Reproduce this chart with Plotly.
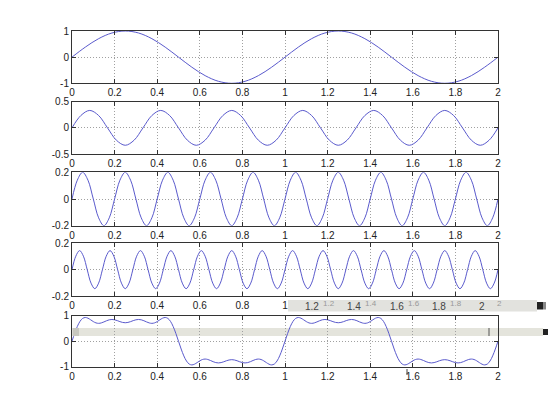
import plotly.graph_objects as go

# ---------------- data ----------------
t1 = [i / 16 for i in range(33)]
y1 = [0, .383, .707, .924, 1, .924, .707, .383, 0, -.383, -.707, -.924, -1, -.924, -.707, -.383,
      0, .383, .707, .924, 1, .924, .707, .383, 0, -.383, -.707, -.924, -1, -.924, -.707, -.383,
      0]

t2 = [i / 24 for i in range(49)]
y2 = [0, .236, .333, .236, 0, -.236, -.333, -.236,
      0, .236, .333, .236, 0, -.236, -.333, -.236,
      0, .236, .333, .236, 0, -.236, -.333, -.236,
      0, .236, .333, .236, 0, -.236, -.333, -.236,
      0, .236, .333, .236, 0, -.236, -.333, -.236,
      0, .236, .333, .236, 0, -.236, -.333, -.236,
      0]

t3 = [i / 40 for i in range(81)]
y3 = [0, .141, .2, .141, 0, -.141, -.2, -.141,
      0, .141, .2, .141, 0, -.141, -.2, -.141,
      0, .141, .2, .141, 0, -.141, -.2, -.141,
      0, .141, .2, .141, 0, -.141, -.2, -.141,
      0, .141, .2, .141, 0, -.141, -.2, -.141,
      0, .141, .2, .141, 0, -.141, -.2, -.141,
      0, .141, .2, .141, 0, -.141, -.2, -.141,
      0, .141, .2, .141, 0, -.141, -.2, -.141,
      0, .141, .2, .141, 0, -.141, -.2, -.141,
      0, .141, .2, .141, 0, -.141, -.2, -.141,
      0]

t4 = [i / 56 for i in range(113)]
y4 = [0, .101, .143, .101, 0, -.101, -.143, -.101,
      0, .101, .143, .101, 0, -.101, -.143, -.101,
      0, .101, .143, .101, 0, -.101, -.143, -.101,
      0, .101, .143, .101, 0, -.101, -.143, -.101,
      0, .101, .143, .101, 0, -.101, -.143, -.101,
      0, .101, .143, .101, 0, -.101, -.143, -.101,
      0, .101, .143, .101, 0, -.101, -.143, -.101,
      0, .101, .143, .101, 0, -.101, -.143, -.101,
      0, .101, .143, .101, 0, -.101, -.143, -.101,
      0, .101, .143, .101, 0, -.101, -.143, -.101,
      0, .101, .143, .101, 0, -.101, -.143, -.101,
      0, .101, .143, .101, 0, -.101, -.143, -.101,
      0, .101, .143, .101, 0, -.101, -.143, -.101,
      0, .101, .143, .101, 0, -.101, -.143, -.101,
      0]

t5 = [i / 80 for i in range(161)]
y5 = [0, .307, .576, .777, .894, .930, .902, .839, .769, .718, .700, .717, .756, .803, .839, .852,
      .839, .807, .767, .736, .724, .736, .767, .807, .839, .852, .839, .803, .756, .717, .700,
      .718, .769, .839, .902, .930, .894, .777, .576, .307,
      0, -.307, -.576, -.777, -.894, -.930, -.902, -.839, -.769, -.718, -.700, -.717, -.756, -.803,
      -.839, -.852, -.839, -.807, -.767, -.736, -.724, -.736, -.767, -.807, -.839, -.852, -.839,
      -.803, -.756, -.717, -.700, -.718, -.769, -.839, -.902, -.930, -.894, -.777, -.576, -.307,
      0, .307, .576, .777, .894, .930, .902, .839, .769, .718, .700, .717, .756, .803, .839, .852,
      .839, .807, .767, .736, .724, .736, .767, .807, .839, .852, .839, .803, .756, .717, .700,
      .718, .769, .839, .902, .930, .894, .777, .576, .307,
      0, -.307, -.576, -.777, -.894, -.930, -.902, -.839, -.769, -.718, -.700, -.717, -.756, -.803,
      -.839, -.852, -.839, -.807, -.767, -.736, -.724, -.736, -.767, -.807, -.839, -.852, -.839,
      -.803, -.756, -.717, -.700, -.718, -.769, -.839, -.902, -.930, -.894, -.777, -.576, -.307,
      0]

x_ticks = [0, 0.2, 0.4, 0.6, 0.8, 1, 1.2, 1.4, 1.6, 1.8, 2]
x_labels = ["0", "0.2", "0.4", "0.6", "0.8", "1", "1.2", "1.4", "1.6", "1.8", "2"]
# panel 4: labels past 1 are drawn as the glitched (doubled) labels of the strip
x_labels_p4 = ["0", "0.2", "0.4", "0.6", "0.8", "1", "", "", "", "", ""]
y_ticks = [[-1, 0, 1], [-0.5, 0, 0.5], [-0.2, 0, 0.2], [-0.2, 0, 0.2], [-1, 0, 1]]
y_labels = [["-1", "0", "1"], ["-0.5", "0", "0.5"], ["-0.2", "0", "0.2"],
            ["-0.2", "0", "0.2"], ["-1", "0", "1"]]
ghost_labels = ["1.2", "1.4", "1.6", "1.8", "2"]
ghost_ticks = [1.2, 1.4, 1.6, 1.8, 2]

series = [(t1, y1), (t2, y2), (t3, y3), (t4, y4), (t5, y5)]

# ---------------- layout helpers ----------------
W, H = 550, 413
px_left, px_right = 72, 498
panels_px = [(31, 83.3), (101.7, 154), (172.3, 225.7), (243, 296.3), (315.7, 366.7)]

fig = go.Figure()
line_col = "#5a5acc"
font = dict(family="Liberation Sans, Arial, sans-serif", size=10, color="#222")

for i, (t, y) in enumerate(series):
    n = "" if i == 0 else str(i + 1)
    fig.add_trace(go.Scatter(x=t, y=y, mode="lines",
                             line=dict(color=line_col, width=1, shape="spline"),
                             xaxis="x" + n, yaxis="y" + n, showlegend=False,
                             hoverinfo="skip"))
    top, bot = panels_px[i]
    common = dict(showline=True, linecolor="#333", linewidth=1, mirror="ticks",
                  ticks="inside", ticklen=4, tickcolor="#333", tickwidth=1,
                  showgrid=True, gridcolor="#a0a0a0", griddash="1px,2px", gridwidth=1,
                  zeroline=False, tickfont=font, automargin=False)
    fig.layout["xaxis" + n] = dict(domain=[px_left / W, px_right / W], range=[0, 2],
                                   anchor="y" + n, tickvals=x_ticks,
                                   ticktext=x_labels_p4 if i == 3 else x_labels,
                                   **common)
    fig.layout["yaxis" + n] = dict(domain=[1 - bot / H, 1 - top / H],
                                   range=[y_ticks[i][0], y_ticks[i][-1]],
                                   anchor="x" + n, tickvals=y_ticks[i], ticktext=y_labels[i],
                                   **common)

# screenshot glitch strips seen in the reference
def px(x):
    return x / W

def py(y):
    return 1 - y / H

shapes = [
    dict(type="rect", xref="paper", yref="paper", x0=px(288), x1=px(537), y0=py(311.5), y1=py(300),
         fillcolor="#e2e2de", line=dict(width=0), layer="above"),
    dict(type="rect", xref="paper", yref="paper", x0=px(537), x1=px(543), y0=py(309.5), y1=py(302),
         fillcolor="#222", line=dict(width=0), layer="above"),
    dict(type="rect", xref="paper", yref="paper", x0=px(543), x1=px(546), y0=py(309.5), y1=py(302),
         fillcolor="#888", line=dict(width=0), layer="above"),
    dict(type="rect", xref="paper", yref="paper", x0=px(72.5), x1=px(543), y0=py(336), y1=py(328),
         fillcolor="#e4e4dc", line=dict(width=0), layer="between"),
    dict(type="rect", xref="paper", yref="paper", x0=px(72.5), x1=px(79), y0=py(336), y1=py(328),
         fillcolor="#c8c8c0", line=dict(width=0), layer="above"),
    dict(type="rect", xref="paper", yref="paper", x0=px(543), x1=px(548), y0=py(335), y1=py(329),
         fillcolor="#222", line=dict(width=0), layer="above"),
    dict(type="line", xref="paper", yref="paper", x0=px(489), x1=px(489), y0=py(336), y1=py(328),
         line=dict(color="#555", width=1), layer="above"),
    dict(type="line", xref="paper", yref="paper", x0=px(407), x1=px(407), y0=py(375), y1=py(369),
         line=dict(color="#444", width=1), layer="above"),
]
annotations = []
for lab, tv in zip(ghost_labels, ghost_ticks):
    annotations.append(dict(text=lab, x=tv, xref="x4", xshift=-16, y=py(306), yref="paper",
                            showarrow=False, font=dict(family=font["family"], size=10, color="#444"),
                            xanchor="center", yanchor="middle"))
    annotations.append(dict(text=lab, x=tv, xref="x4", xshift=1, y=py(303), yref="paper",
                            showarrow=False, font=dict(family=font["family"], size=8, color="#999"),
                            xanchor="center", yanchor="middle"))
fig.update_layout(shapes=shapes, annotations=annotations)

fig.update_layout(template="none", autosize=False, width=W, height=H,
                  margin=dict(l=0, r=0, t=0, b=0, pad=0),
                  paper_bgcolor="white", plot_bgcolor="white")
fig.write_html("out.html", config={"displayModeBar": False, "responsive": False},
               post_script="document.body.style.margin='0px';document.body.style.overflow='hidden';")
